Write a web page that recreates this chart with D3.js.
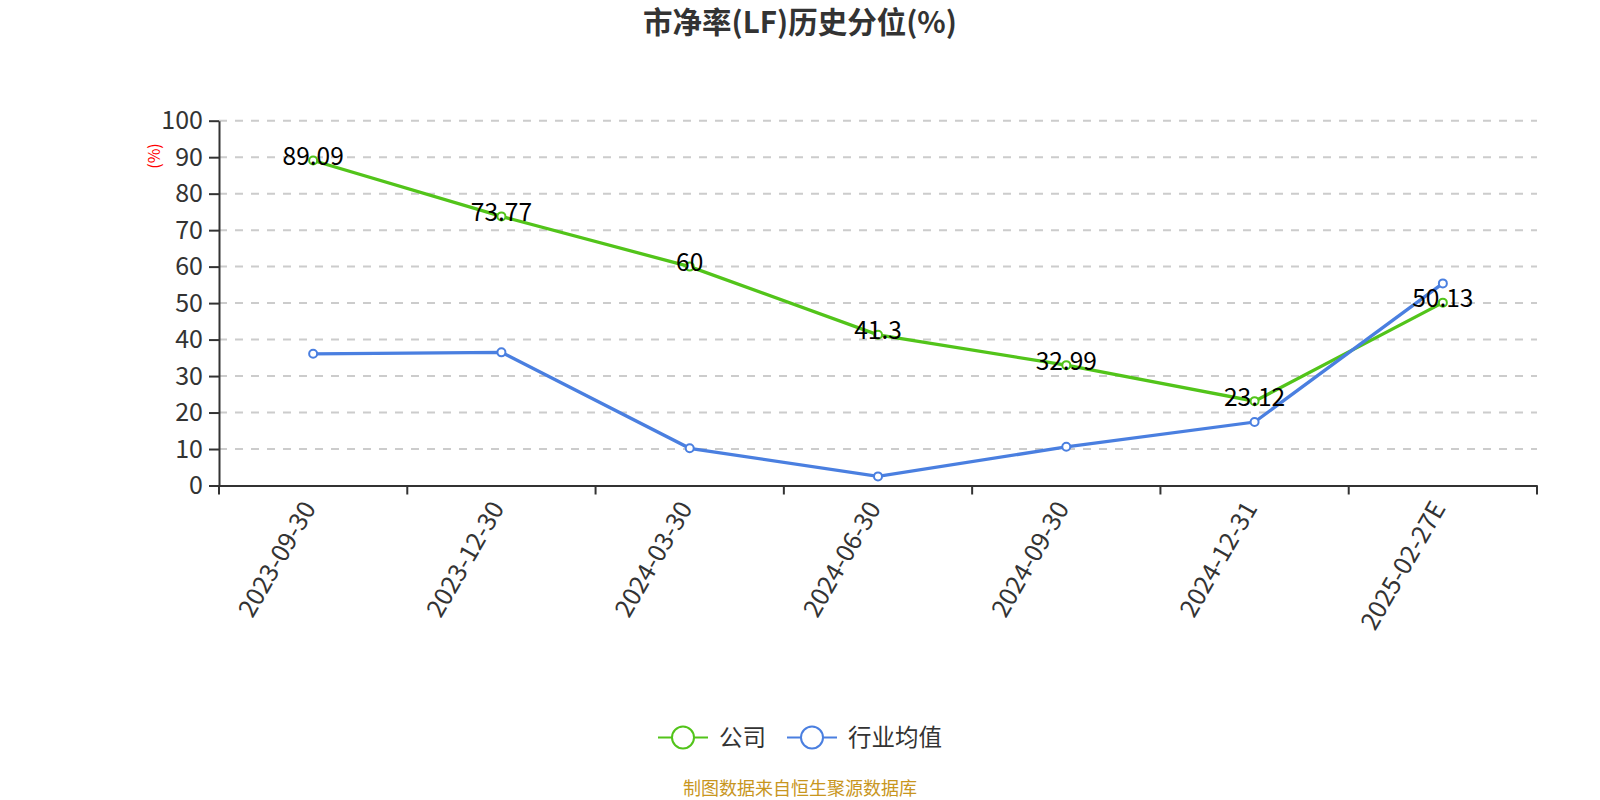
<!DOCTYPE html>
<html>
<head>
<meta charset="utf-8">
<script src="https://cdn.jsdelivr.net/npm/d3@7"></script>
<style>
  body { margin: 0; background: #fff; }
  text { font-family: "Noto Sans CJK SC", "Noto Sans", sans-serif; }
</style>
</head>
<body>
<svg width="1600" height="800"></svg>
<script>
const categories = ['2023-09-30', '2023-12-30', '2024-03-30', '2024-06-30', '2024-09-30', '2024-12-31', '2025-02-27E'];
const companyValues = [89.09, 73.77, 60, 41.3, 32.99, 23.12, 50.13];
const industryValues = [36.1, 36.5, 10.2, 2.5, 10.6, 17.4, 55.4];
const yTicks = [0, 10, 20, 30, 40, 50, 60, 70, 80, 90, 100];

const green = '#52c41a';
const blue = '#4a7fe0';

const svg = d3.select('svg');
const plotLeft = 219, plotRight = 1537, plotTop = 120.7, plotBottom = 485.5;

const x = d3.scaleBand().domain(categories).range([plotLeft, plotRight]);
const y = d3.scaleLinear().domain([0, 100]).range([plotBottom, plotTop]);

// title
svg.append('text')
  .attr('x', 800).attr('y', 33)
  .attr('text-anchor', 'middle')
  .attr('font-size', 29.5).attr('font-weight', 'bold').attr('fill', '#333')
  .text('市净率(LF)历史分位(%)');

// grid
svg.append('g').selectAll('line')
  .data(yTicks.filter(d => d > 0))
  .enter().append('line')
    .attr('x1', plotLeft).attr('x2', plotRight)
    .attr('y1', d => y(d)).attr('y2', d => y(d))
    .attr('stroke', '#ccc').attr('stroke-width', 2)
    .attr('stroke-dasharray', '8,8');

// y axis
const yAxis = svg.append('g')
  .attr('transform', `translate(${plotLeft},0)`)
  .call(d3.axisLeft(y).tickValues(yTicks).tickSize(10).tickSizeOuter(0).tickPadding(6));
yAxis.select('.domain').attr('stroke', '#333').attr('stroke-width', 2);
yAxis.selectAll('.tick line').attr('stroke', '#333').attr('stroke-width', 2);
yAxis.selectAll('.tick text').attr('font-size', 25).attr('fill', '#333');

svg.append('text')
  .attr('transform', `translate(156,156) rotate(-90)`)
  .attr('text-anchor', 'middle')
  .attr('dominant-baseline', 'middle')
  .attr('font-size', 16).attr('fill', 'red')
  .text('(%)');

// x axis
const xAxis = svg.append('g')
  .attr('transform', `translate(0,${plotBottom})`)
  .call(d3.axisBottom(x).tickSize(0).tickSizeOuter(0));
xAxis.select('.domain').attr('stroke', '#333').attr('stroke-width', 2);
xAxis.selectAll('.tick line').remove();
xAxis.selectAll('.tick text')
  .attr('font-size', 25).attr('fill', '#333')
  .attr('text-anchor', 'end')
  .attr('y', 0)
  .attr('dy', '0.35em')
  .attr('transform', 'translate(-4,18) rotate(-60)');

// band boundary ticks
const bounds = categories.map(c => x(c)).concat([plotRight]);
svg.append('g').selectAll('line')
  .data(bounds)
  .enter().append('line')
    .attr('x1', d => d).attr('x2', d => d)
    .attr('y1', plotBottom).attr('y2', plotBottom + 9)
    .attr('stroke', '#333').attr('stroke-width', 2);

const cx = c => x(c) + x.bandwidth() / 2;
const line = d3.line().x((d, i) => cx(categories[i])).y(d => y(d));

function drawSeries(values, color) {
  svg.append('path')
    .datum(values)
    .attr('d', line)
    .attr('fill', 'none')
    .attr('stroke', color).attr('stroke-width', 3.3);
  svg.append('g').selectAll('circle')
    .data(values)
    .enter().append('circle')
      .attr('cx', (d, i) => cx(categories[i]))
      .attr('cy', d => y(d))
      .attr('r', 4)
      .attr('fill', '#fff')
      .attr('stroke', color).attr('stroke-width', 2);
}

drawSeries(companyValues, green);
drawSeries(industryValues, blue);

// labels for company series
svg.append('g').selectAll('text')
  .data(companyValues)
  .enter().append('text')
    .attr('x', (d, i) => cx(categories[i]))
    .attr('y', d => y(d) - 2)
    .attr('text-anchor', 'middle')
    .attr('dominant-baseline', 'middle')
    .attr('font-size', 24.5).attr('fill', '#000')
    .text(d => d);

// legend
const legend = [
  { name: '公司', color: green, x: 658 },
  { name: '行业均值', color: blue, x: 787 }
];
const lg = svg.append('g').selectAll('g')
  .data(legend)
  .enter().append('g')
    .attr('transform', d => `translate(${d.x},737.5)`);
lg.append('line')
  .attr('x1', 0).attr('x2', 50)
  .attr('stroke', d => d.color).attr('stroke-width', 2);
lg.append('circle')
  .attr('cx', 25).attr('r', 11)
  .attr('fill', '#fff')
  .attr('stroke', d => d.color).attr('stroke-width', 2);
lg.append('text')
  .attr('x', 61).attr('dy', '0.35em')
  .attr('font-size', 23.5).attr('fill', '#333')
  .text(d => d.name);

// footer
svg.append('text')
  .attr('x', 800).attr('y', 795)
  .attr('text-anchor', 'middle')
  .attr('font-size', 18).attr('fill', '#c8961e')
  .text('制图数据来自恒生聚源数据库');
</script>
</body>
</html>
